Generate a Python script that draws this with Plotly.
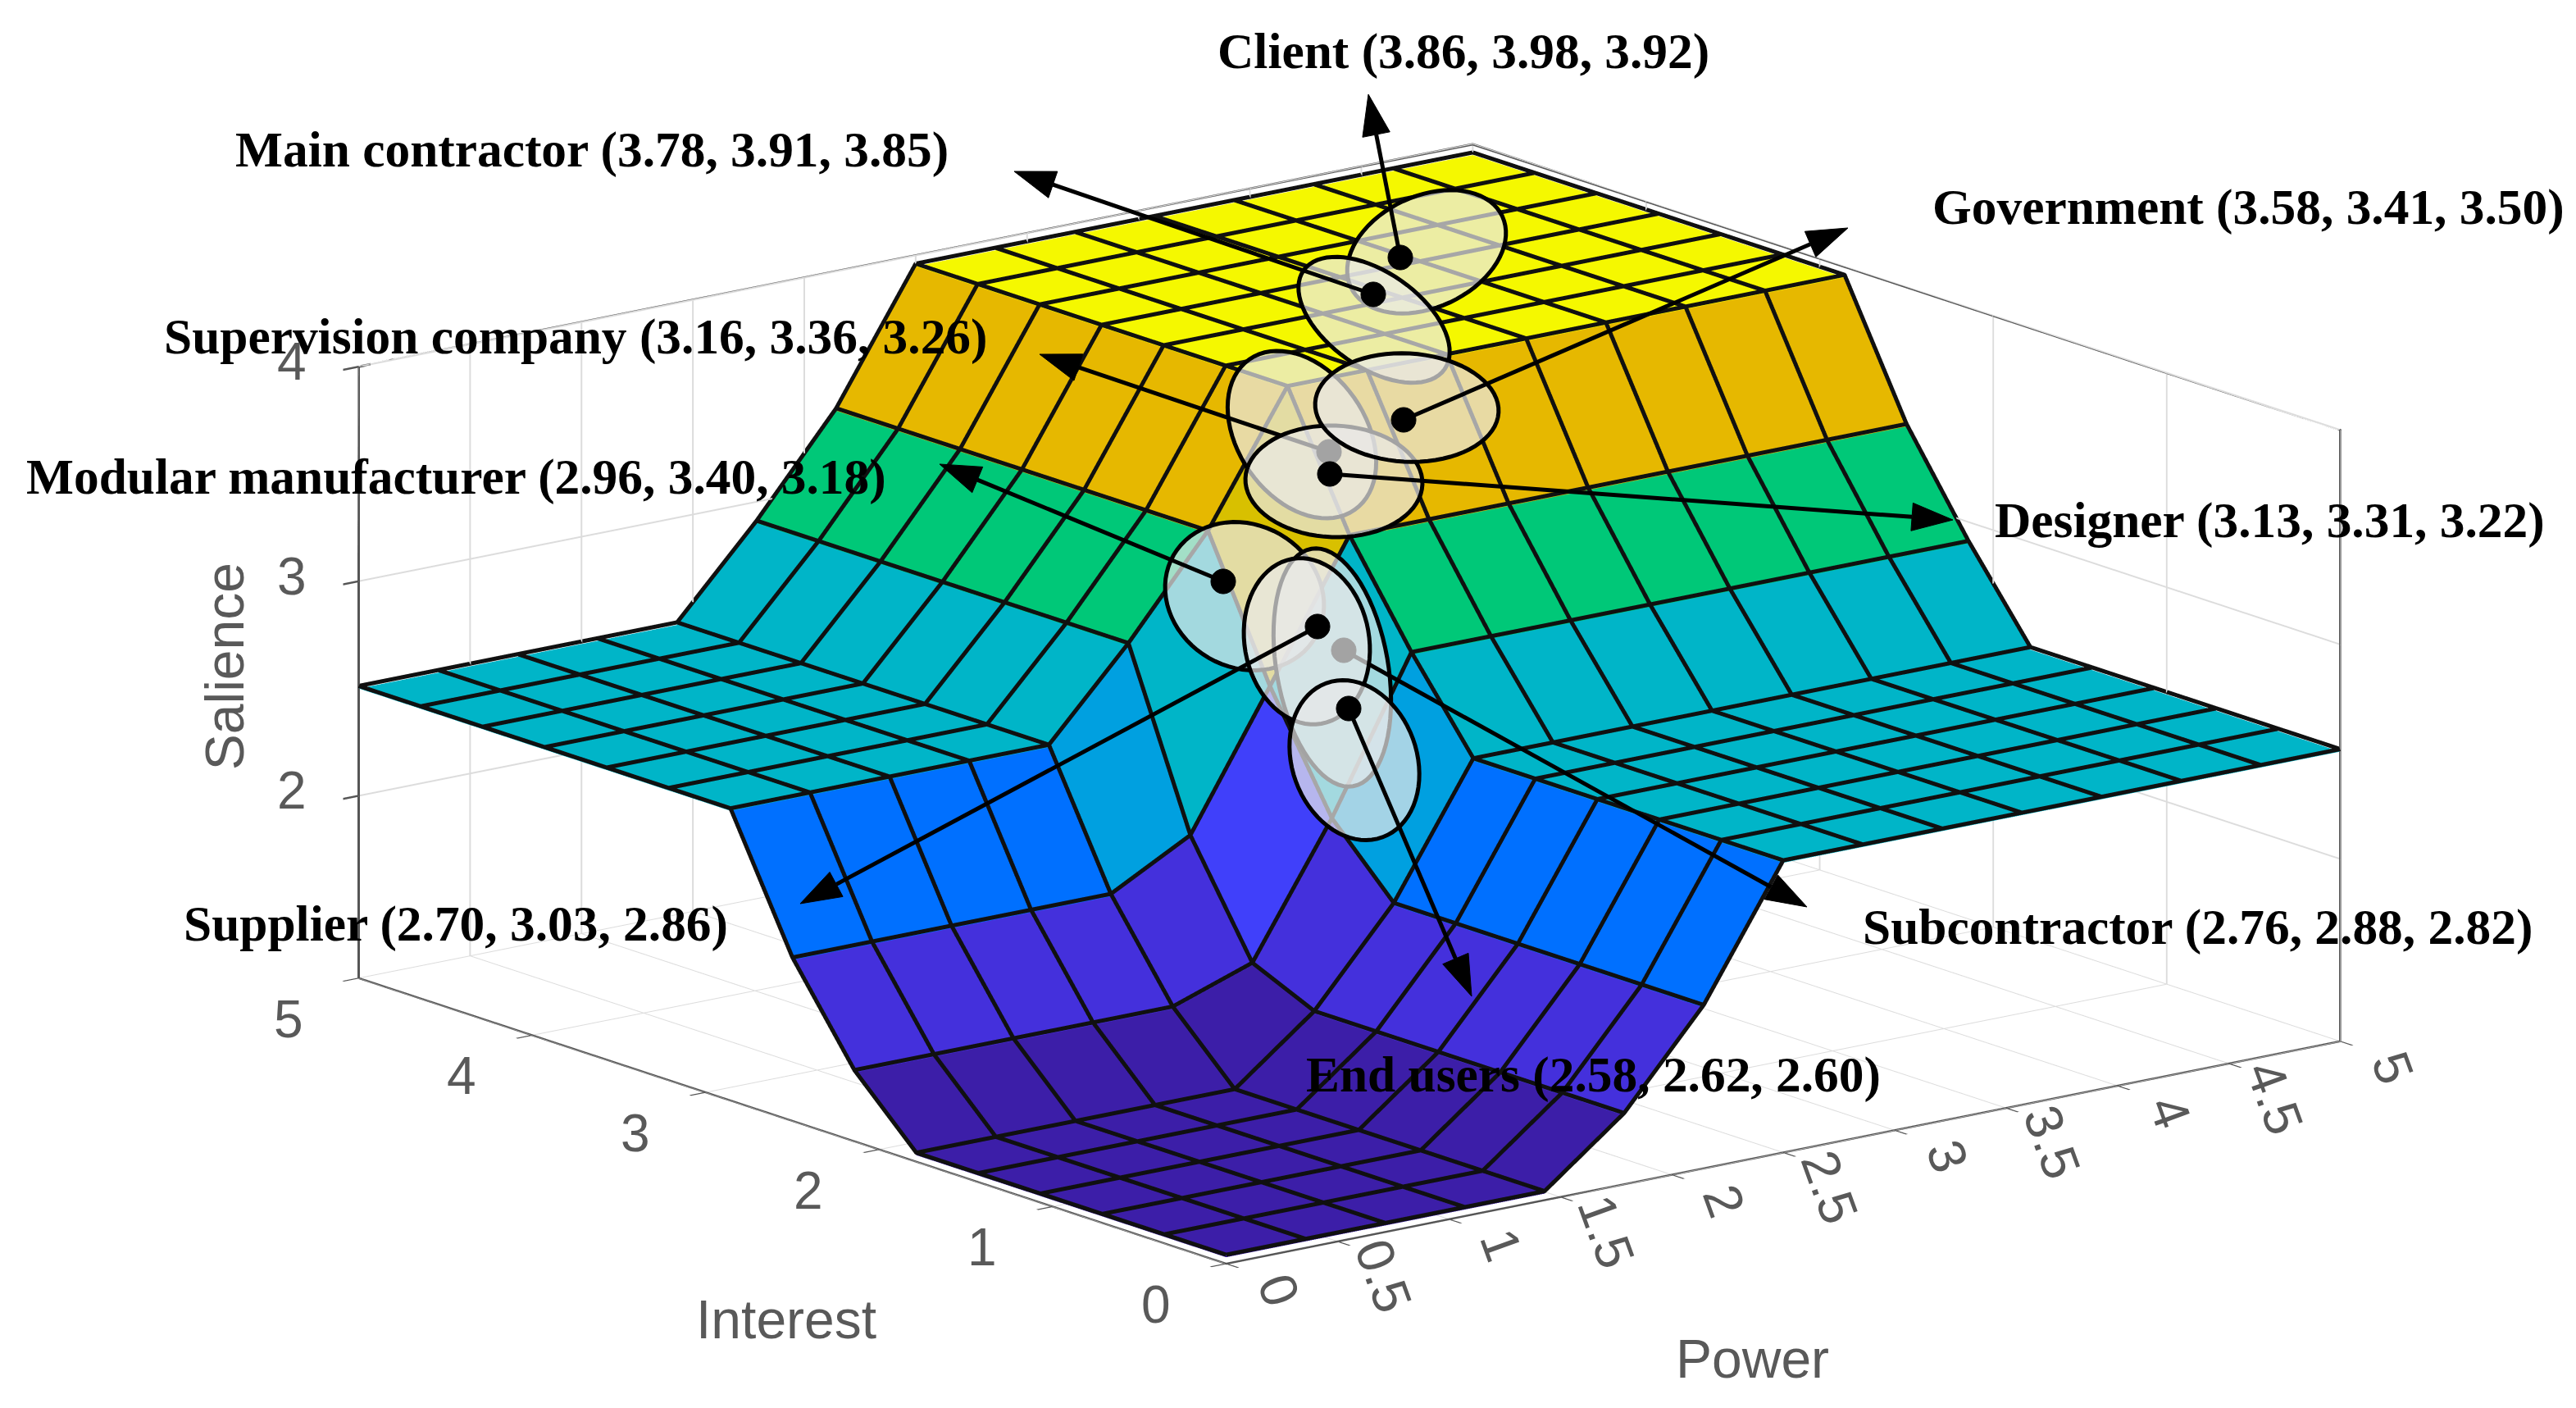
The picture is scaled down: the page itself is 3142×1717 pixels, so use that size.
import math
import plotly.graph_objects as go

W, H = 3142, 1717
PAGE_PAD = 8  # browser margin round the plot
FW, FH = W - 2 * PAGE_PAD, H - 2 * PAGE_PAD

# surface grid, 15 nodes each way
power = [0.0, 0.357, 0.714, 1.071, 1.429, 1.786, 2.143, 2.5, 2.857, 3.214, 3.571, 3.929, 4.286, 4.643, 5.0]
interest = [0.0, 0.357, 0.714, 1.071, 1.429, 1.786, 2.143, 2.5, 2.857, 3.214, 3.571, 3.929, 4.286, 4.643, 5.0]

# salience, one row per interest node
row_low = [1.18, 1.18, 1.18, 1.18, 1.18, 1.47, 1.90, 2.50, 2.50, 2.50, 2.50, 2.50, 2.50, 2.50, 2.50]
row_a = [1.47, 1.47, 1.47, 1.47, 1.47, 1.60, 2.20, 2.90, 2.90, 2.90, 2.90, 2.90, 2.90, 2.90, 2.90]
row_b = [1.90, 1.90, 1.90, 1.90, 1.90, 2.10, 2.72, 3.35, 3.35, 3.35, 3.35, 3.35, 3.35, 3.35, 3.35]
row_high = [2.50, 2.50, 2.50, 2.50, 2.50, 2.90, 3.35, 3.95, 3.95, 3.95, 3.95, 3.95, 3.95, 3.95, 3.95]
salience = [row_low] * 6 + [row_a, row_b] + [row_high] * 7

# stepped colours, by mean height of a cell
color_steps = [
    (1.18, "#3c1ea8"), (1.50, "#4430dc"), (1.85, "#4040fa"), (2.18, "#0070ff"), (2.30, "#00a0e0"),
    (2.48, "#00b5c8"), (2.90, "#00c878"), (3.20, "#d8c000"), (3.50, "#e6b800"), (3.90, "#f5f800"),
]
z_min, z_max = 1.15, 4.0
LINE_LIFT = 0.012  # keeps the cell edges out of the folded mesh

power_ticks = [0, 0.5, 1, 1.5, 2, 2.5, 3, 3.5, 4, 4.5, 5]
interest_ticks = [0, 1, 2, 3, 4, 5]
salience_ticks = [2, 3, 4]

# stakeholders: power, interest, salience
names = ["Client", "Main contractor", "Supervision company", "Designer", "Government",
         "Modular manufacturer", "Subcontractor", "Supplier", "End users"]
val_p = [3.86, 3.78, 3.16, 3.13, 3.58, 2.96, 2.76, 2.70, 2.58]
val_i = [3.98, 3.91, 3.36, 3.31, 3.41, 3.40, 2.88, 3.03, 2.62]
val_s = [3.92, 3.85, 3.26, 3.22, 3.50, 3.18, 2.82, 2.86, 2.60]

# overlay drawn by hand on the figure, in pixels of the page, same order as names
ell_cx = [1740, 1676, 1588, 1627, 1716, 1518, 1625, 1594, 1652]
ell_cy = [307, 390, 530, 587, 497, 727, 814, 782, 927]
ell_a = [102, 105, 112, 108, 112, 100, 147, 102, 100]
ell_b = [68, 58, 78, 68, 66, 87, 68, 76, 76]
ell_tilt = [-25, 35, 55, 2, 3, 30, 80, 80, 70]
dot_x = [1708, 1675, 1621, 1622, 1712, 1492, 1639, 1607, 1645]
dot_y = [314, 359, 551, 578, 512, 709, 793, 764, 864]
tip_x = [1669, 1237, 1268, 2382, 2254, 1146, 2204, 976, 1795]
tip_y = [115, 209, 432, 634, 278, 566, 1106, 1102, 1215]
label_x = [1483, 285, 198, 2431, 2355, 30, 2270, 222, 1591]
label_y = [63, 182, 411, 635, 252, 581, 1130, 1126, 1310]


def px(x, y):
    return (x - PAGE_PAD) / FW, 1 - (y - PAGE_PAD) / FH


def path_from(points):
    return "M " + " L ".join("%.5f %.5f" % px(x, y) for x, y in points) + " Z"


def ellipse_path(cx, cy, a, b, tilt):
    t = math.radians(tilt)
    pts = []
    for k in range(72):
        u = 2 * math.pi * k / 72
        ex, ey = a * math.cos(u), b * math.sin(u)
        pts.append((cx + ex * math.cos(t) - ey * math.sin(t), cy + ex * math.sin(t) + ey * math.cos(t)))
    return path_from(pts)


def arrow_paths(x0, y0, x1, y1, head=50, half=17):
    d = math.hypot(x1 - x0, y1 - y0)
    ux, uy = (x1 - x0) / d, (y1 - y0) / d
    bx, by = x1 - ux * head, y1 - uy * head
    shaft = path_from([(x0, y0), (bx, by)]).replace(" Z", "")
    tip = path_from([(x1, y1), (bx - uy * half, by + ux * half), (bx + uy * half, by - ux * half)])
    return shaft, tip


def overlay_shapes():
    shapes = []
    black = dict(xref="paper", yref="paper", layer="above", type="path")
    # arrow and dot sit under the ellipses that come after them
    for i in range(len(names)):
        shapes.append(dict(black, path=ellipse_path(ell_cx[i], ell_cy[i], ell_a[i], ell_b[i], ell_tilt[i]),
                           fillcolor="rgba(232,232,232,0.7)", line=dict(color="black", width=5)))
        shaft, tip = arrow_paths(dot_x[i], dot_y[i], tip_x[i], tip_y[i])
        shapes.append(dict(black, path=shaft, line=dict(color="black", width=5)))
        shapes.append(dict(black, path=tip, fillcolor="black", line=dict(color="black", width=1)))
        shapes.append(dict(black, path=ellipse_path(dot_x[i], dot_y[i], 15, 15, 0),
                           fillcolor="black", line=dict(color="black", width=1)))
    return shapes


def tick_notes():
    font = dict(family="Liberation Sans", size=64, color="#595959")
    title = dict(font, size=66)
    notes = []
    for t in power_ticks:
        single = float(t).is_integer()
        notes.append(dict(x=t, y=0, z=z_min, text=str(t), textangle=70, showarrow=False, font=font,
                          xshift=64 if single else 56, yshift=-32 if single else -42))
    for t in interest_ticks:
        notes.append(dict(x=0, y=t, z=z_min, text=str(t), showarrow=False, font=font, xshift=-86, yshift=-50))
    for t in salience_ticks:
        notes.append(dict(x=0, y=5, z=t, text=str(t), showarrow=False, font=font, xshift=-82, yshift=6))
    notes.append(dict(x=2.5, y=0, z=z_min, text="Power", showarrow=False, font=title, xshift=-38, yshift=-252))
    notes.append(dict(x=0, y=2.5, z=z_min, text="Interest", showarrow=False, font=title, xshift=-8, yshift=-242))
    notes.append(dict(x=0, y=5, z=2.58, text="Salience", textangle=-90, showarrow=False, font=title, xshift=-164, yshift=6))
    return notes


# mesh with one colour per cell
nx, ny = len(power), len(interest)
mx, my, mz, ti, tj, tk, cell_z = [], [], [], [], [], [], []
for r in range(ny):
    for c in range(nx):
        mx.append(power[c])
        my.append(interest[r])
        mz.append(salience[r][c])
for r in range(ny - 1):
    for c in range(nx - 1):
        a = r * nx + c
        b, d, e = a + 1, a + nx, a + nx + 1
        mean_z = (mz[a] + mz[b] + mz[d] + mz[e]) / 4
        ti += [a, a]
        tj += [b, e]
        tk += [e, d]
        cell_z += [mean_z, mean_z]

scale = []
span = z_max - z_min
edges = [s[0] for s in color_steps] + [z_max]
for k, (lo, col) in enumerate(color_steps):
    scale.append([(max(lo, z_min) - z_min) / span, col])
    scale.append([(edges[k + 1] - z_min) / span, col])
scale[0][0] = 0.0

fig = go.Figure()
fig.add_trace(go.Mesh3d(
    x=mx, y=my, z=mz, i=ti, j=tj, k=tk,
    intensity=cell_z, intensitymode="cell", colorscale=scale, cmin=z_min, cmax=z_max,
    showscale=False, flatshading=True, hoverinfo="skip",
    lighting=dict(ambient=1, diffuse=0, specular=0, roughness=1, fresnel=0),
))

# cell edges
lx, ly, lz = [], [], []
for r in range(ny):
    lx += power + [None]
    ly += [interest[r]] * nx + [None]
    lz += [v + LINE_LIFT for v in salience[r]] + [None]
for c in range(nx):
    lx += [power[c]] * ny + [None]
    ly += interest + [None]
    lz += [row[c] + LINE_LIFT for row in salience] + [None]
fig.add_trace(go.Scatter3d(x=lx, y=ly, z=lz, mode="lines", line=dict(color="#101010", width=10),
                           hoverinfo="skip", showlegend=False))

# back edges of the box
fig.add_trace(go.Scatter3d(
    x=[0, 0, 5, 5, 5], y=[5, 5, 5, 0, 0], z=[z_min, z_max, z_max, z_max, z_min],
    mode="lines", line=dict(color="#555555", width=6), hoverinfo="skip", showlegend=False))

axis = dict(showbackground=False, showgrid=True, gridcolor="#dcdcdc", gridwidth=4,
            showline=True, linecolor="#555555", linewidth=5, zeroline=False,
            ticks="outside", ticklen=24, tickcolor="#555555", tickwidth=5, showspikes=False,
            showticklabels=False, title=dict(text=""))

fig.update_layout(
    width=FW, height=FH, margin=dict(l=0, r=0, t=0, b=0), paper_bgcolor="white", showlegend=False,
    scene=dict(
        domain=dict(x=[0.048, 1.0], y=[0, 1]),
        aspectmode="manual", aspectratio=dict(x=2.025, y=2.025, z=0.907),
        camera=dict(eye=dict(x=-1.425, y=-1.83, z=0.615), center=dict(x=0, y=0, z=0),
                    up=dict(x=0, y=0, z=1), projection=dict(type="orthographic")),
        xaxis=dict(axis, range=[0, 5], tickvals=power_ticks),
        yaxis=dict(axis, range=[0, 5], tickvals=interest_ticks),
        zaxis=dict(axis, range=[z_min, z_max], tickvals=salience_ticks),
        annotations=tick_notes(),
    ),
    shapes=overlay_shapes(),
    annotations=[
        dict(xref="paper", yref="paper", x=px(label_x[i], 0)[0], y=px(0, label_y[i])[1],
             xanchor="left", yanchor="middle", showarrow=False,
             text="<b>%s (%.2f, %.2f, %.2f)</b>" % (names[i], val_p[i], val_i[i], val_s[i]),
             font=dict(family="Liberation Serif", size=61.4, color="black"))
        for i in range(len(names))
    ],
)

fig.write_html("out.html")
